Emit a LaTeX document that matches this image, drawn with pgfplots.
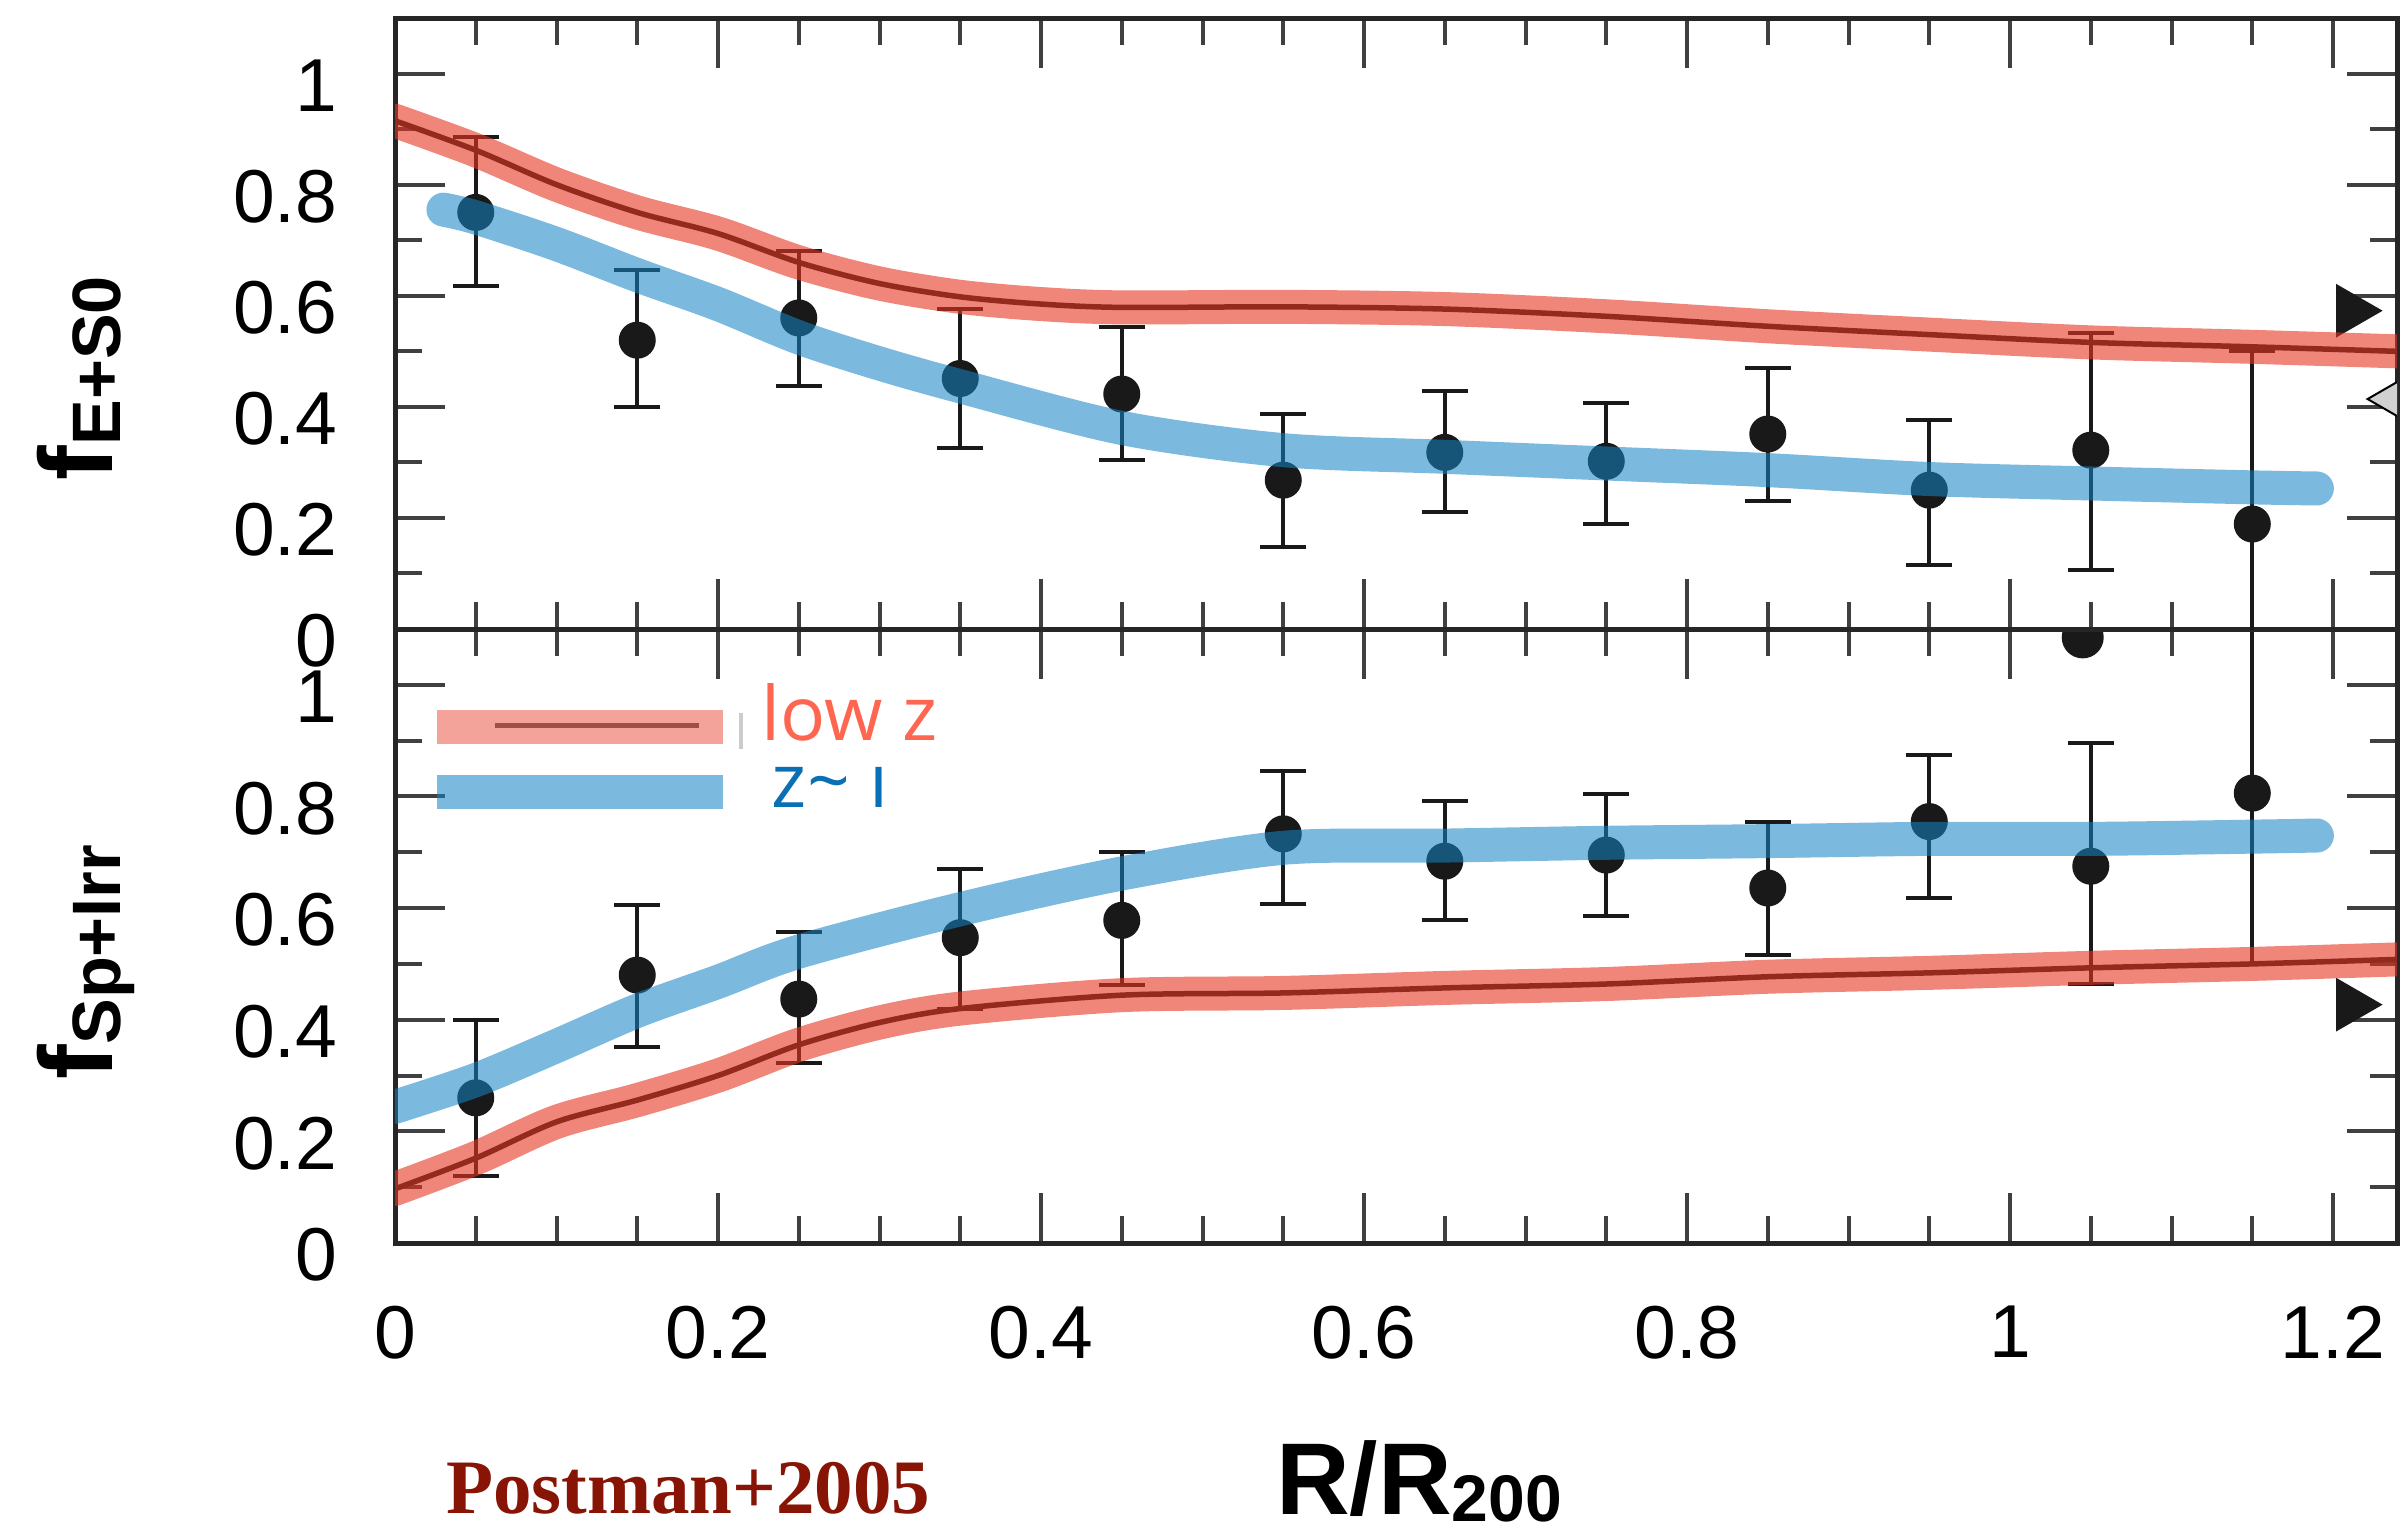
\documentclass[border=0pt]{standalone}
\usepackage{pgfplots}
\usepackage{pgfplotstable}
\pgfplotsset{compat=1.18}
\usepackage{fontspec}
\setmainfont{Liberation Sans}
\newfontfamily\opensans{Open Sans}
\newfontfamily\postfont{Liberation Serif}

\definecolor{bandred}{RGB}{230,52,33}
\definecolor{bandblue}{RGB}{20,132,196}
\definecolor{lowz}{RGB}{255,102,80}
\definecolor{zone}{RGB}{10,112,181}
\definecolor{postred}{RGB}{135,20,5}

\pgfplotstableread[row sep=\\]{
x y ep em \\
0.05 0.750 0.136 0.133 \\
0.15 0.520 0.127 0.121 \\
0.25 0.560 0.120 0.123 \\
0.35 0.451 0.126 0.125 \\
0.45 0.423 0.121 0.119 \\
0.55 0.268 0.119 0.120 \\
0.65 0.318 0.111 0.108 \\
0.75 0.302 0.105 0.113 \\
0.85 0.351 0.118 0.120 \\
0.95 0.250 0.127 0.134 \\
1.05 0.322 0.211 0.216 \\
1.15 0.189 0.311 0.400 \\
}\toppts

\pgfplotstableread[row sep=\\]{
x y ep em \\
0.05 0.260 0.140 0.140 \\
0.15 0.480 0.126 0.128 \\
0.25 0.437 0.120 0.115 \\
0.35 0.547 0.123 0.127 \\
0.45 0.578 0.122 0.115 \\
0.55 0.733 0.113 0.126 \\
0.65 0.684 0.108 0.106 \\
0.75 0.695 0.110 0.109 \\
0.85 0.636 0.118 0.120 \\
0.95 0.755 0.119 0.137 \\
1.05 0.675 0.221 0.211 \\
1.15 0.806 0.500 0.306 \\
}\botpts

\pgfplotstableread[row sep=\\]{
x y \\
0 0.915 \\ 0.05 0.862 \\ 0.1 0.800 \\ 0.15 0.750 \\ 0.2 0.712 \\ 0.25 0.660 \\
0.3 0.622 \\ 0.35 0.598 \\ 0.4 0.585 \\ 0.45 0.579 \\ 0.55 0.580 \\ 0.65 0.576 \\
0.75 0.563 \\ 0.85 0.545 \\ 0.95 0.530 \\ 1.05 0.516 \\ 1.15 0.508 \\ 1.26 0.498 \\
}\topred

\pgfplotstableread[row sep=\\]{
x y \\
0.03 0.755 \\ 0.05 0.741 \\ 0.1 0.693 \\ 0.15 0.637 \\ 0.2 0.585 \\ 0.25 0.525 \\
0.3 0.478 \\ 0.35 0.437 \\ 0.45 0.362 \\ 0.55 0.322 \\ 0.65 0.310 \\ 0.75 0.298 \\
0.85 0.286 \\ 0.95 0.270 \\ 1.05 0.262 \\ 1.15 0.255 \\ 1.19 0.253 \\
}\topblue

\pgfplotstableread[row sep=\\]{
x y \\
0 0.244 \\ 0.05 0.292 \\ 0.1 0.353 \\ 0.15 0.416 \\ 0.2 0.468 \\ 0.25 0.522 \\
0.35 0.598 \\ 0.45 0.662 \\ 0.55 0.708 \\ 0.65 0.712 \\ 0.75 0.717 \\ 0.85 0.720 \\
0.95 0.724 \\ 1.05 0.724 \\ 1.15 0.728 \\ 1.19 0.730 \\
}\botblue

\pgfplotstableread[row sep=\\]{
x y \\
0 0.097 \\ 0.05 0.152 \\ 0.1 0.217 \\ 0.15 0.256 \\ 0.2 0.300 \\ 0.25 0.355 \\
0.3 0.395 \\ 0.35 0.420 \\ 0.45 0.444 \\ 0.55 0.448 \\ 0.65 0.457 \\ 0.75 0.464 \\
0.85 0.477 \\ 0.95 0.484 \\ 1.05 0.493 \\ 1.15 0.500 \\ 1.26 0.510 \\
}\botred

\pgfplotsset{
  panel/.style={
    scale only axis, width=400.4pt,
    xmin=0, xmax=1.2396, ymin=0, ymax=1.1,
    clip marker paths=true,
    xtick={0,0.2,0.4,0.6,0.8,1,1.2},
    ytick={0,0.2,0.4,0.6,0.8,1},
    minor x tick num=3, minor y tick num=1,
    major tick length=10pt, minor tick length=5.4pt,
    every tick/.style={black!75, line width=0.8pt},
    axis line style={black!85, line width=1pt},
    tick label style={font=\fontsize{15}{18}\selectfont},
    /pgf/number format/assume math mode=true,
    yticklabel style={xshift=-8pt, yshift=-2.4pt},
    xticklabel style={yshift=-9pt},
  },
  pts/.style={only marks, mark=*, mark size=3.5pt, black,
    mark options={fill=black!90, draw=black!90},
    error bars/.cd, y dir=both, y explicit,
    error bar style={line width=0.8pt, black!90},
    error mark options={rotate=90, mark size=4.6pt, line width=0.8pt, black!90}},
  darkline/.style={no marks, smooth, tension=0.5, line width=1.1pt, black!90},
  bandR/.style={no marks, smooth, tension=0.5, line width=6.8pt, bandred, opacity=0.6, line cap=round},
  bandB/.style={no marks, smooth, tension=0.5, line width=6.8pt, bandblue, opacity=0.56, line cap=round},
}

\newcommand{\flab}[1]{{\fontsize{20.8}{24}\selectfont\bfseries f\raisebox{-1.6pt}{\fontsize{13.7}{16}\selectfont #1}}}

\begin{document}
\begin{tikzpicture}
\useasboundingbox (0,0) rectangle (480.2pt,306.2pt);

% bottom panel
\begin{axis}[panel, at={(79pt,57.6pt)}, anchor=south west, height=122.8pt]
  \addplot[darkline] table[x=x,y=y] {\botred};
  \addplot[pts] table[x=x,y=y,y error plus=ep,y error minus=em] {\botpts};
  \addplot[only marks, mark=*, mark size=4pt, black!90] coordinates {(1.045,1.085)};
  \addplot[only marks, mark=triangle*, mark size=5.8pt, mark options={rotate=-90, fill=black!90, draw=black!90}] coordinates {(1.2115,0.427)};
  \addplot[bandB] table[x=x,y=y] {\botblue};
  \addplot[bandR] table[x=x,y=y] {\botred};
  % legend
  \addplot[black!60, line width=1pt] coordinates {(0.062,0.928) (0.188,0.928)};
  \addplot[bandred, opacity=0.45, line width=6.8pt] coordinates {(0.026,0.925) (0.203,0.925)};
  \addplot[bandblue, opacity=0.56, line width=6.8pt] coordinates {(0.026,0.808) (0.203,0.808)};
  \addplot[black!20, line width=0.8pt] coordinates {(0.214,0.885) (0.214,0.95)};
  \node[anchor=base west, inner sep=0, text=lowz, font=\opensans\fontsize{15}{18}\selectfont] at (axis cs:0.2266,0.901) {low z};
  \node[anchor=base west, inner sep=0, text=zone, font=\opensans\fontsize{15}{18}\selectfont] at (axis cs:0.2328,0.7796) {z\textasciitilde\ ı};
\end{axis}

% top panel
\begin{axis}[panel, at={(79pt,180.4pt)}, anchor=south west, height=122.2pt, xticklabels={}]
  \addplot[darkline] table[x=x,y=y] {\topred};
  \addplot[pts] table[x=x,y=y,y error plus=ep,y error minus=em] {\toppts};
  \addplot[only marks, mark=triangle*, mark size=5.8pt, mark options={rotate=-90, fill=black!90, draw=black!90}] coordinates {(1.2115,0.573)};
  \addplot[only marks, mark=triangle*, mark size=5.3pt, mark options={rotate=90, fill=black!18, draw=none}] coordinates {(1.2378,0.414)};
  \addplot[bandB] table[x=x,y=y] {\topblue};
  \addplot[bandR] table[x=x,y=y] {\topred};
\end{axis}

\node[rotate=90, anchor=base] at (22.4pt,230.6pt) {\flab{E+S0}};
\node[rotate=90, anchor=base] at (22.4pt,113.8pt) {\flab{Sp+Irr}};
\node[anchor=base] at (283.8pt,3.4pt) {{\fontsize{20.4}{24}\selectfont\bfseries R/R\raisebox{-1.4pt}{\fontsize{13.2}{16}\selectfont 200}}};
\node[anchor=base west, inner sep=0, text=postred] at (89pt,3.6pt) {\postfont\bfseries\fontsize{15.4}{18}\selectfont Postman+2005};
\end{tikzpicture}
\end{document}
